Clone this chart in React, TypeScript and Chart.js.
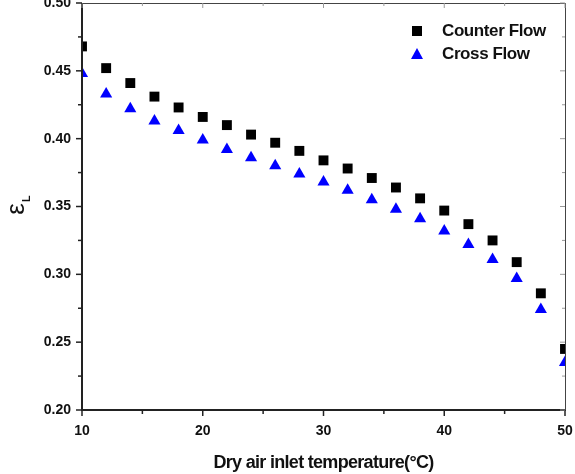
import React, { useEffect, useRef } from "react";
import { Chart, registerables } from "chart.js";

Chart.register(...registerables);

const temps = [10, 12, 14, 16, 18, 20, 22, 24, 26, 28, 30, 32, 34, 36, 38, 40, 42, 44, 46, 48, 50];
const counterFlow = [0.468, 0.452, 0.441, 0.431, 0.423, 0.416, 0.410, 0.403, 0.397, 0.391, 0.384, 0.378, 0.371, 0.364, 0.356, 0.347, 0.337, 0.325, 0.309, 0.286, 0.245];
const crossFlow = [0.448, 0.433, 0.422, 0.413, 0.406, 0.399, 0.392, 0.386, 0.380, 0.374, 0.368, 0.362, 0.355, 0.348, 0.341, 0.332, 0.322, 0.311, 0.297, 0.274, 0.235];
const seriesNames = ["Counter Flow", "Cross Flow"];
const xTitle = "Dry air inlet temperature(°C)";
const yTitleMain = "ε";
const yTitleSub = "L";

const FONT = "'Liberation Sans', Arial, sans-serif";

const framePlugin = {
  id: "framePlugin",
  afterDraw(chart: any) {
    const { ctx, chartArea } = chart;
    const { left, right, top, bottom } = chartArea;
    const xs = chart.scales.x;
    const ys = chart.scales.y;
    ctx.save();
    // frame
    ctx.strokeStyle = "#444";
    ctx.lineWidth = 1;
    ctx.strokeRect(left + 0.5, top + 0.5, right - left, bottom - top);
    ctx.strokeStyle = "#222";
    ctx.lineWidth = 2;
    ctx.beginPath();
    ctx.moveTo(left, top);
    ctx.lineTo(left, bottom);
    ctx.lineTo(right, bottom);
    ctx.stroke();
    // ticks
    ctx.lineWidth = 1.5;
    ctx.strokeStyle = "#222";
    for (let v = 10; v <= 50; v += 5) {
      const px = xs.getPixelForValue(v);
      const major = v % 10 === 0;
      ctx.beginPath();
      ctx.moveTo(px, bottom);
      ctx.lineTo(px, bottom + (major ? 6 : 4));
      ctx.stroke();
      ctx.beginPath();
      ctx.strokeStyle = "#999";
      ctx.lineWidth = 1;
      ctx.moveTo(px, top);
      ctx.lineTo(px, top + (major ? 5 : 3));
      ctx.stroke();
      ctx.strokeStyle = "#222";
      ctx.lineWidth = 1.5;
    }
    for (let i = 0; i <= 12; i++) {
      const v = 0.2 + i * 0.025;
      const py = ys.getPixelForValue(v);
      const major = i % 2 === 0;
      ctx.beginPath();
      ctx.moveTo(left, py);
      ctx.lineTo(left - (major ? 6 : 4), py);
      ctx.stroke();
      ctx.beginPath();
      ctx.strokeStyle = "#999";
      ctx.lineWidth = 1;
      ctx.moveTo(right, py);
      ctx.lineTo(right - (major ? 5 : 3), py);
      ctx.stroke();
      ctx.strokeStyle = "#222";
      ctx.lineWidth = 1.5;
    }
    // x title
    ctx.fillStyle = "#111";
    ctx.font = `bold 18px ${FONT}`;
    (ctx as any).letterSpacing = "-0.7px";
    ctx.textAlign = "center";
    ctx.textBaseline = "middle";
    ctx.fillText(xTitle, (left + right) / 2, 463);
    // y title
    ctx.save();
    ctx.translate(17, 209);
    ctx.rotate(-Math.PI / 2);
    (ctx as any).letterSpacing = "0px";
    ctx.font = `26px ${FONT}`;
    ctx.textAlign = "center";
    ctx.fillText(yTitleMain, 0, 0);
    ctx.font = `bold 11px ${FONT}`;
    ctx.textAlign = "left";
    ctx.fillText(yTitleSub, 7, 10);
    ctx.restore();
    // legend
    const items = [
      { name: seriesNames[0], style: "rect", color: "#000", y: 31 },
      { name: seriesNames[1], style: "triangle", color: "#0000ff", y: 54 },
    ];
    for (const it of items) {
      ctx.fillStyle = it.color;
      if (it.style === "rect") {
        ctx.fillRect(412, it.y - 5, 10, 10);
      } else {
        ctx.beginPath();
        ctx.moveTo(417, it.y - 6);
        ctx.lineTo(423, it.y + 5);
        ctx.lineTo(411, it.y + 5);
        ctx.closePath();
        ctx.fill();
      }
      ctx.fillStyle = "#111";
      ctx.font = `bold 17px ${FONT}`;
      (ctx as any).letterSpacing = "-0.4px";
      ctx.textAlign = "left";
      ctx.textBaseline = "middle";
      ctx.fillText(it.name, 442, it.y);
    }
    ctx.restore();
  },
};

export default function App() {
  const ref = useRef<HTMLCanvasElement>(null);
  useEffect(() => {
    if (!ref.current) return;
    const chart = new Chart(ref.current, {
      type: "scatter",
      data: {
        datasets: [
          {
            label: seriesNames[0],
            data: temps.map((t, i) => ({ x: t, y: counterFlow[i] })),
            pointStyle: "rect",
            pointRadius: 7,
            backgroundColor: "#000",
            borderColor: "#000",
            borderWidth: 0,
          },
          {
            label: seriesNames[1],
            data: temps.map((t, i) => ({ x: t, y: crossFlow[i] })),
            pointStyle: "triangle",
            pointRadius: 7,
            backgroundColor: "#0000ff",
            borderColor: "#0000ff",
            borderWidth: 0,
          },
        ],
      },
      options: {
        animation: false,
        responsive: false,
        maintainAspectRatio: false,
        layout: { autoPadding: false, padding: { top: 3, right: 10, left: 0, bottom: 0 } },
        plugins: { legend: { display: false }, tooltip: { enabled: false } },
        scales: {
          x: {
            type: "linear",
            min: 10,
            max: 50,
            grid: { display: false, drawTicks: false },
            border: { display: false },
            ticks: {
              stepSize: 10,
              padding: 13,
              color: "#111",
              font: { family: FONT, size: 14, weight: "bold" },
              callback: (v: any) => String(v),
              maxRotation: 0,
            },
            afterFit: (s: any) => {
              s.height = 64;
              s.paddingLeft = 0;
              s.paddingRight = 0;
            },
          },
          y: {
            type: "linear",
            min: 0.2,
            max: 0.5,
            grid: { display: false, drawTicks: false },
            border: { display: false },
            ticks: {
              stepSize: 0.05,
              padding: 11,
              color: "#111",
              font: { family: FONT, size: 14, weight: "bold", lineHeight: 0.4 },
              callback: (v: any) => Number(v).toFixed(2),
            },
            afterFit: (s: any) => {
              s.width = 82;
              s.paddingTop = 0;
              s.paddingBottom = 0;
            },
          },
        },
      },
      plugins: [framePlugin],
    });
    return () => chart.destroy();
  }, []);
  return (
    <div style={{ position: "fixed", left: 0, top: 0, width: 575, height: 474, background: "#fff" }}>
      <canvas ref={ref} width={575} height={474} style={{ display: "block" }} />
    </div>
  );
}
